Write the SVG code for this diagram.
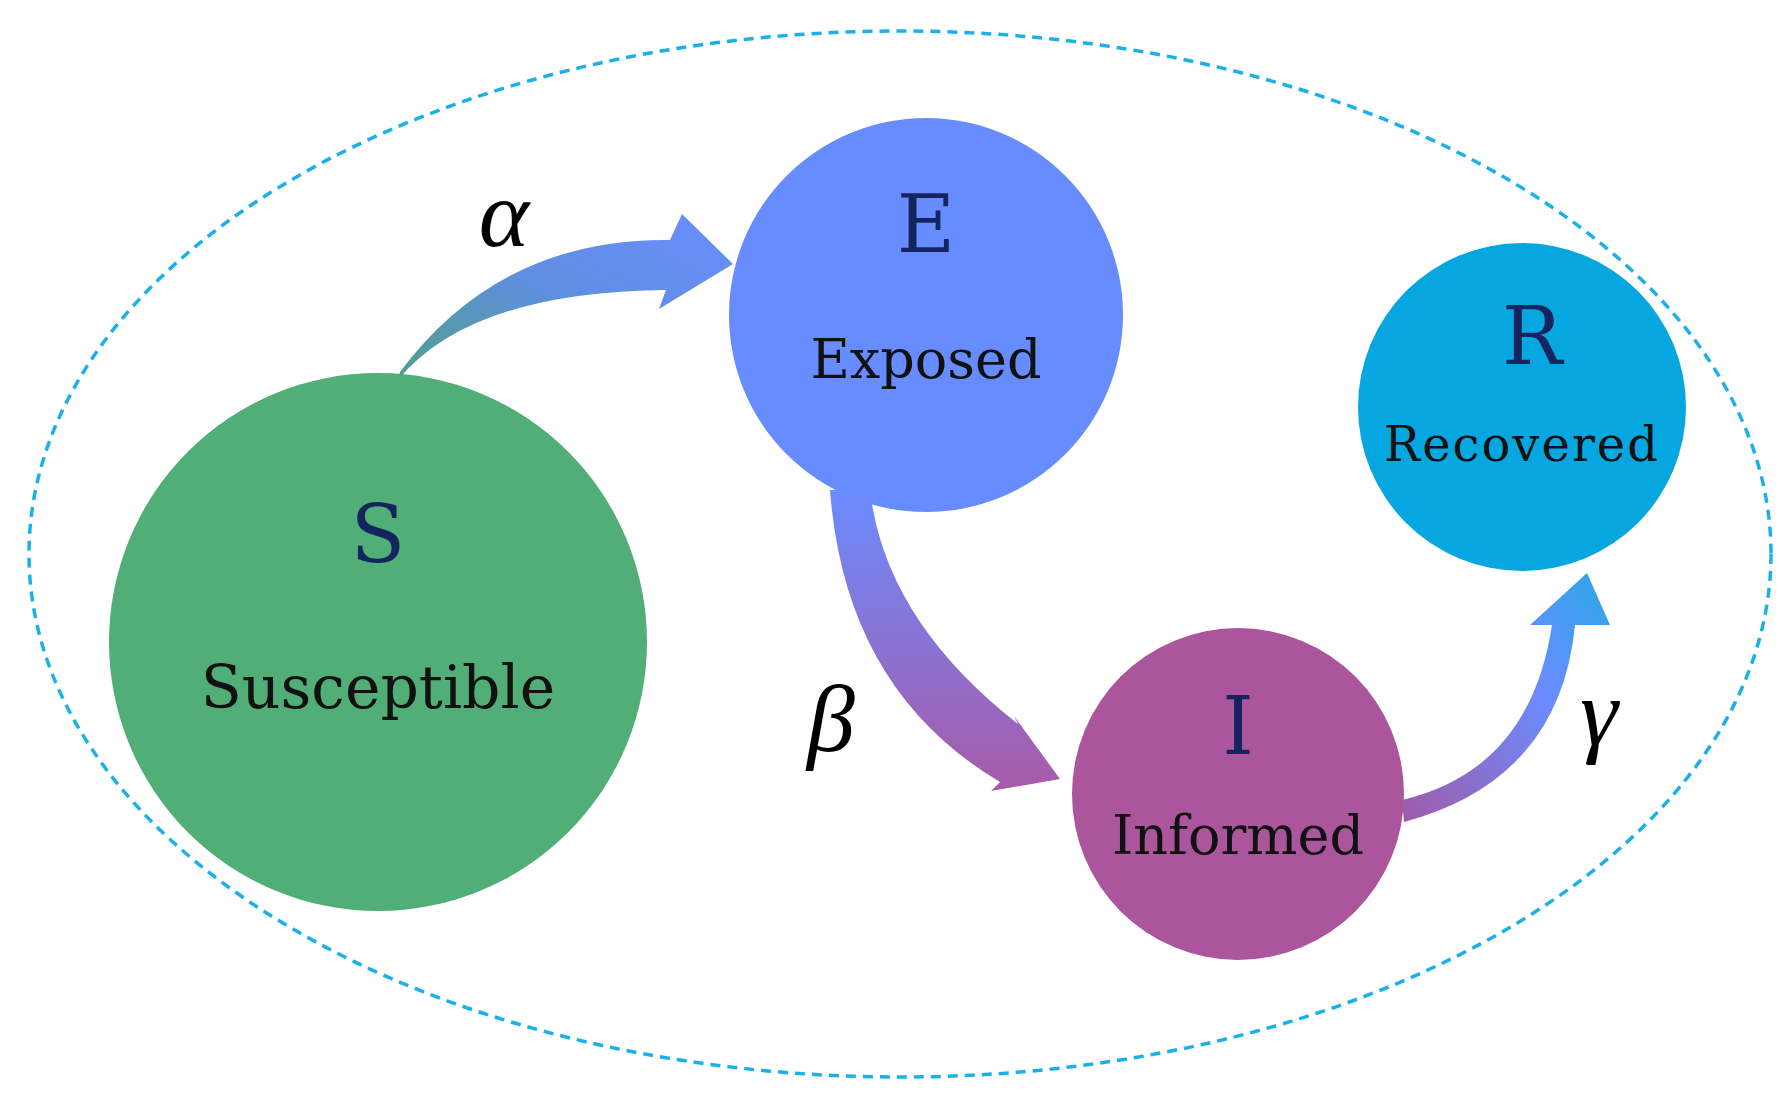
<svg xmlns="http://www.w3.org/2000/svg" width="1788" height="1104" viewBox="0 0 1788 1104">
<defs>
<linearGradient id="ga" x1="0" y1="1" x2="1" y2="0"><stop offset="0" stop-color="#4fa08a"/><stop offset="0.5" stop-color="#5f8fe0"/><stop offset="1" stop-color="#6a8cff"/></linearGradient>
<linearGradient id="gb" x1="0" y1="0" x2="0" y2="1"><stop offset="0" stop-color="#6a8cff"/><stop offset="1" stop-color="#a85aa8"/></linearGradient>
<linearGradient id="gc" x1="0" y1="1" x2="1" y2="0"><stop offset="0" stop-color="#a05aa8"/><stop offset="0.6" stop-color="#6a8cff"/><stop offset="1" stop-color="#2aa8e8"/></linearGradient>
<style>
.big{font-family:"DejaVu Serif","Liberation Serif",serif;fill:#14245e;text-anchor:middle}
.lbl{font-family:"DejaVu Serif","Liberation Serif",serif;fill:#111;text-anchor:middle}
.gr{font-family:"Liberation Serif",serif;font-style:italic;fill:#000;text-anchor:middle}
</style>
</defs>
<rect width="1788" height="1104" fill="#fff"/>
<ellipse cx="900" cy="554" rx="871" ry="523" fill="none" stroke="#1ab0ea" stroke-width="3.5" stroke-dasharray="10,7"/>
<g id="S"><circle cx="378" cy="642" r="269" fill="#52ae77"/><text class="big" x="378" y="562" font-size="80">S</text><text class="lbl" x="378" y="708" font-size="60">Susceptible</text></g>
<g id="E"><circle cx="926" cy="315" r="197" fill="#668cff"/><text class="big" x="926" y="252" font-size="80">E</text><text class="lbl" x="926" y="378" font-size="54">Exposed</text></g>
<g id="R"><circle cx="1522" cy="407" r="164" fill="#06a6e0"/><text class="big" x="1532" y="364" font-size="80">R</text><text class="lbl" x="1522" y="461" font-size="48" letter-spacing="2">Recovered</text></g>
<g id="I"><circle cx="1238" cy="794" r="166" fill="#aa559c"/><text class="big" x="1238" y="754" font-size="80">I</text><text class="lbl" x="1238" y="854" font-size="54">Informed</text></g>
<g id="connectors">
<path d="M398,380 Q470,292 666,290 L659,309 L733,264 L682,214 L670,240 Q500,238 400,372 Z" fill="url(#ga)"/>
<path d="M830,490 Q845,690 1000,782 L991,791 L1060,779 L1014,716 L1018,724 Q885,620 870,490 Z" fill="url(#gb)"/>
<path d="M1404,822 Q1560,780 1575,625 L1610,625 L1587,573 L1530,625 L1552,625 Q1530,770 1402,800 Z" fill="url(#gc)"/>
</g>
<text class="gr" x="504" y="246" font-size="96">α</text>
<text class="gr" x="831" y="751" font-size="96">β</text>
<text class="gr" x="1599" y="745" font-size="96">γ</text>
</svg>
